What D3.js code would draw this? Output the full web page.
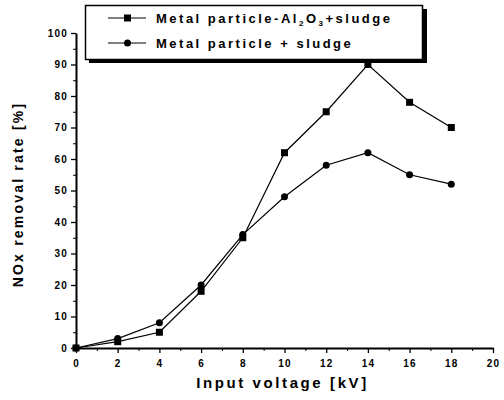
<!DOCTYPE html>
<html>
<head>
<style>
  body { margin: 0; background: #fff; }
  text { font-family: "Liberation Sans", Arial, sans-serif; font-weight: bold; }
</style>
</head>
<body>
<svg width="504" height="400"></svg>
<script src="https://d3js.org/d3.v7.min.js"></script>
<script>

    var voltage = [0, 2, 4, 6, 8, 10, 12, 14, 16, 18];
    var al2o3Sludge = [0, 2, 5, 18, 35, 62, 75, 90, 78, 70];
    var plainSludge = [0, 3, 8, 20, 36, 48, 58, 62, 55, 52];
    var xTicks = [0, 2, 4, 6, 8, 10, 12, 14, 16, 18, 20];
    var yTicks = [0, 10, 20, 30, 40, 50, 60, 70, 80, 90, 100];

    var svg = d3.select("svg"),
        margin = { top: 33, right: 11, bottom: 52, left: 76 },
        width = +svg.attr("width") - margin.left - margin.right,
        height = +svg.attr("height") - margin.top - margin.bottom,
        g = svg.append("g").attr("transform", "translate(" + margin.left + "," + margin.top + ")");

    var x = d3.scaleLinear().domain([0, 20]).range([0, width]);
    var y = d3.scaleLinear().domain([0, 100]).range([height, 0]);

    // minor ticks first, then major axes with labels
    g.append("g")
        .attr("transform", "translate(0," + height + ")")
        .call(d3.axisBottom(x).tickValues(d3.range(1, 20, 2)).tickSize(3).tickFormat(""))
        .call(function (a) { a.select(".domain").remove(); });
    g.append("g")
        .call(d3.axisLeft(y).tickValues(d3.range(5, 100, 10)).tickSize(3).tickFormat(""))
        .call(function (a) { a.select(".domain").remove(); });

    var xAxis = g.append("g")
        .attr("transform", "translate(0," + height + ")")
        .call(d3.axisBottom(x).tickValues(xTicks).tickSize(5).tickSizeOuter(0));
    var yAxis = g.append("g")
        .call(d3.axisLeft(y).tickValues(yTicks).tickSize(5).tickSizeOuter(0));

    [xAxis, yAxis].forEach(function (a) {
        a.select(".domain").attr("stroke-width", 2);
        a.selectAll(".tick line").attr("stroke-width", 1.3);
        a.selectAll("text").attr("font-size", 10).attr("letter-spacing", "1.2px").attr("fill", "#000");
    });
    xAxis.selectAll("text").attr("dy", "1.1em");

    svg.append("text")
        .attr("x", margin.left + x(10) - 2).attr("y", 388)
        .attr("text-anchor", "middle").attr("font-size", 15).attr("letter-spacing", "2.6px")
        .text("Input voltage [kV]");

    svg.append("text")
        .attr("transform", "translate(23," + (margin.top + height / 2 + 4) + ") rotate(-90)")
        .attr("text-anchor", "middle").attr("font-size", 14).attr("letter-spacing", "2.2px")
        .text("NOx removal rate [%]");

    var line = d3.line()
        .x(function (d, i) { return x(voltage[i]); })
        .y(function (d) { return y(d); });

    g.append("path").datum(al2o3Sludge)
        .attr("fill", "none").attr("stroke", "#000").attr("stroke-width", 1.2).attr("d", line);
    g.append("path").datum(plainSludge)
        .attr("fill", "none").attr("stroke", "#000").attr("stroke-width", 1.2).attr("d", line);

    g.selectAll(".sq").data(al2o3Sludge).enter().append("rect")
        .attr("x", function (d, i) { return x(voltage[i]) - 3.5; })
        .attr("y", function (d) { return y(d) - 3.5; })
        .attr("width", 7).attr("height", 7).attr("fill", "#000");
    g.selectAll(".ci").data(plainSludge).enter().append("circle")
        .attr("cx", function (d, i) { return x(voltage[i]); })
        .attr("cy", function (d) { return y(d); })
        .attr("r", 3.5).attr("fill", "#000");

    // legend
    var lg = svg.append("g");
    lg.append("rect").attr("x", 89).attr("y", 9).attr("width", 338).attr("height", 54).attr("fill", "#000");
    lg.append("rect").attr("x", 85.5).attr("y", 5.5).attr("width", 337).attr("height", 54)
        .attr("fill", "#fff").attr("stroke", "#000").attr("stroke-width", 1.5);

    lg.append("line").attr("x1", 108).attr("x2", 146).attr("y1", 18).attr("y2", 18).attr("stroke", "#000").attr("stroke-width", 1.2);
    lg.append("rect").attr("x", 124).attr("y", 14.5).attr("width", 7).attr("height", 7).attr("fill", "#000");
    lg.append("line").attr("x1", 108).attr("x2", 146).attr("y1", 43).attr("y2", 43).attr("stroke", "#000").attr("stroke-width", 1.2);
    lg.append("circle").attr("cx", 127.5).attr("cy", 43).attr("r", 3.5).attr("fill", "#000");

    var t1 = lg.append("text").attr("x", 156).attr("y", 23).attr("font-size", 13).attr("letter-spacing", "2.5px");
    t1.append("tspan").text("Metal particle-Al");
    t1.append("tspan").attr("font-size", 8).attr("dy", 3).text("2");
    t1.append("tspan").attr("dy", -3).text("O");
    t1.append("tspan").attr("font-size", 8).attr("dy", 3).text("3");
    t1.append("tspan").attr("dy", -3).text("+sludge");

    lg.append("text").attr("x", 156).attr("y", 48).attr("font-size", 13).attr("letter-spacing", "2.5px")
        .text("Metal particle + sludge");

</script>
</body>
</html>
